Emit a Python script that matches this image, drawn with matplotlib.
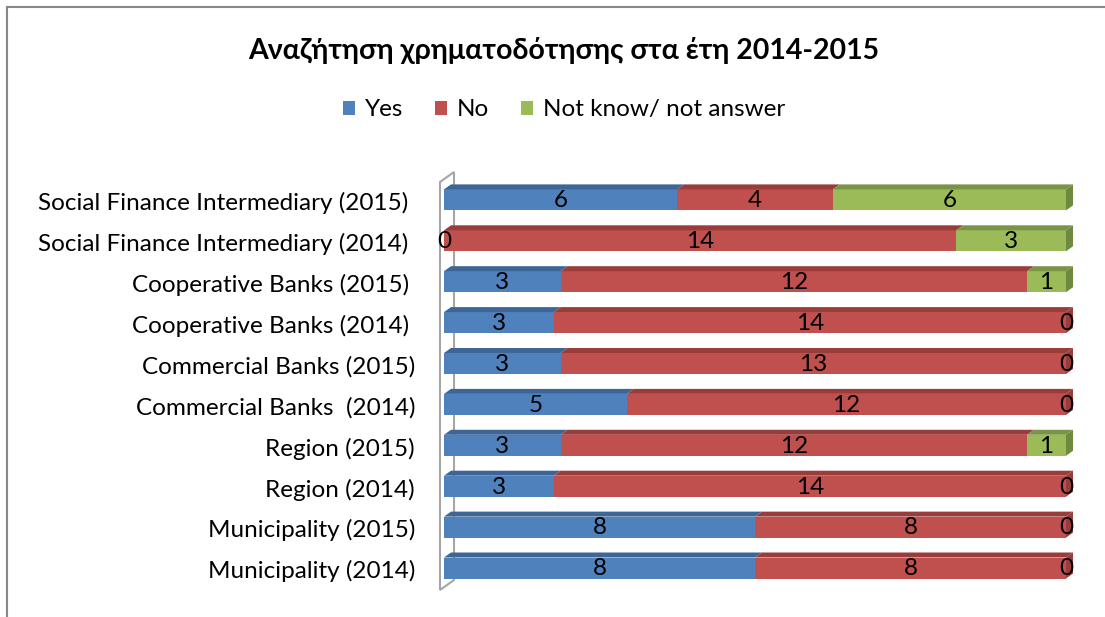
import matplotlib
matplotlib.use("Agg")
import matplotlib.pyplot as plt
from matplotlib.patches import Polygon, Patch
from matplotlib.lines import Line2D

plt.rcParams['font.family'] = ['Lato', 'DejaVu Sans']

# rows from bottom to top
categories = ["Municipality (2014)", "Municipality (2015)", "Region (2014)", "Region (2015)",
              "Commercial Banks  (2014)", "Commercial Banks (2015)", "Cooperative Banks (2014) ",
              "Cooperative Banks (2015) ", "Social Finance Intermediary (2014) ",
              "Social Finance Intermediary (2015) "]
yes = [8, 8, 3, 3, 5, 3, 3, 3, 0, 6]
no = [8, 8, 14, 12, 12, 13, 14, 12, 14, 4]
not_know = [0, 0, 0, 1, 0, 0, 0, 1, 3, 6]
series_names = ["Yes", "No", "Not know/ not answer"]

colors = ["#4F81BD", "#C0504D", "#9BBB59"]
tops = ["#3D6696", "#9A3D3A", "#7A9446"]
side = "#6E8A3E"

W, H = 1105, 617
fig = plt.figure(figsize=(W / 100, H / 100), dpi=100)

# axes in pixel terms: x=0 -> px 444, x=1 -> px 1066 ; y=0 -> px 568, 1 row = 40.9 px
px_x0, px_x1 = 444, 1066
sx = px_x1 - px_x0
row = 40.9
ax_l, ax_r, ax_t, ax_b = 430, 1085, 160, 600
ax = fig.add_axes([ax_l / W, 1 - ax_b / H, (ax_r - ax_l) / W, (ax_b - ax_t) / H])
ax.set_xlim((ax_l - px_x0) / sx, (ax_r - px_x0) / sx)
ax.set_ylim(-(ax_b - 568) / row, (568 - ax_t) / row)
ax.axis("off")

dx = 7 / sx
dy = 5 / row
bh = 21 / row
fs = 17.5

# left wall
wall = [((440 - px_x0) / sx, (568 - 182) / row), ((454 - px_x0) / sx, (568 - 172) / row),
        ((454 - px_x0) / sx, (568 - 580) / row), ((440 - px_x0) / sx, (568 - 590) / row)]
ax.add_patch(Polygon(wall, closed=True, fill=False, edgecolor="#A6A6A6", lw=1.5, zorder=1))

series = [yes, no, not_know]
for i in range(len(categories)):
    total = yes[i] + no[i] + not_know[i]
    left = 0.0
    y0 = i - bh / 2
    last = max(k for k in range(3) if series[k][i] > 0)
    for k in range(3):
        v = series[k][i]
        w = v / total
        if v > 0:
            ax.add_patch(Polygon([(left, y0), (left + w, y0), (left + w, y0 + bh), (left, y0 + bh)],
                                 closed=True, facecolor=colors[k], edgecolor="none", zorder=3))
            ax.add_patch(Polygon([(left, y0 + bh), (left + w, y0 + bh), (left + w + dx, y0 + bh + dy),
                                  (left + dx, y0 + bh + dy)], closed=True, facecolor=tops[k],
                                 edgecolor="none", zorder=3))
            if k == last:
                sc = side if k == 2 else tops[k]
                ax.add_patch(Polygon([(left + w, y0), (left + w + dx, y0 + dy), (left + w + dx, y0 + bh + dy),
                                      (left + w, y0 + bh)], closed=True, facecolor=sc, edgecolor="none",
                                     zorder=3))
        ax.text(left + w / 2, i - 0.02, str(v), ha="center", va="center", fontsize=fs, zorder=5)
        left += w
    ax.text((415 - px_x0) / sx, i - 0.08, categories[i], ha="right", va="center",
            fontsize=fs, zorder=5)

fig.text(564 / W, 1 - 50 / H, "Αναζήτηση χρηματοδότησης στα έτη 2014-2015", ha="center", va="center",
         fontsize=20.5, fontweight="bold")

handles = [Patch(facecolor=c, edgecolor="none") for c in colors]
fig.legend(handles, series_names, loc="center", bbox_to_anchor=(564 / W, 1 - 110 / H), ncol=3,
           frameon=False, fontsize=fs, handlelength=0.5, handleheight=0.5, handletextpad=0.4,
           columnspacing=1.3)

# chart area border (left and top)
fig.add_artist(Line2D([7 / W, 7 / W], [0, 1 - 7 / H], color="#888888", lw=1.5))
fig.add_artist(Line2D([7 / W, 1], [1 - 7 / H, 1 - 7 / H], color="#888888", lw=1.5))

fig.savefig("out.png", dpi=100)
